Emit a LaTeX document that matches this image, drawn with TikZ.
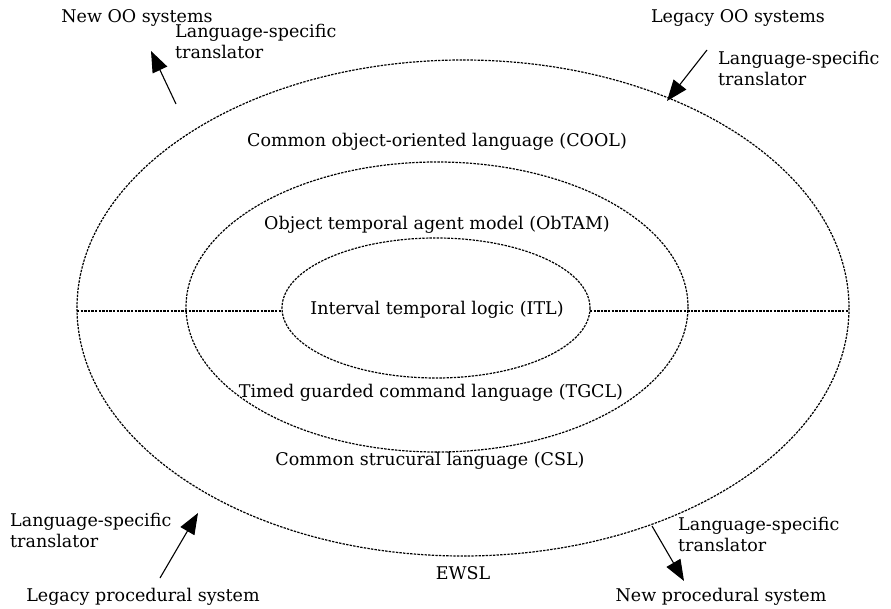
\documentclass[tikz,border=0pt]{standalone}
\usepackage{fontspec}
\setmainfont{DejaVu Serif}
\usetikzlibrary{arrows.meta}
\begin{document}
\begin{tikzpicture}[x=1pt,y=-1pt,
  lbl/.style={inner sep=0pt,font=\fontsize{17.5}{21}\selectfont},
  note/.style={lbl,align=left,anchor=north west},
  ring/.style={draw,line width=1.2pt,dash pattern=on 2.4pt off 1.2pt},
  flow/.style={line width=1.1pt,-{Triangle[length=21pt,width=16pt]}}]
\useasboundingbox (0,0) rectangle (891,609);
% nested language layers
\draw[ring] (463,308) ellipse [x radius=386,y radius=248];
\draw[ring] (437,307) ellipse [x radius=251,y radius=145];
\draw[ring] (436,308) ellipse [x radius=154,y radius=70];
\coordinate (ol) at (77,311);
\coordinate (il) at (282,311);
\coordinate (ir) at (590,311);
\coordinate (or) at (849,311);
\draw[ring] (ol) -- (il);
\draw[ring] (ir) -- (or);
% layer names
\node[lbl] (cool) at (437,142) {Common object-oriented language (COOL)};
\node[lbl] (obtam) at (437,225) {Object temporal agent model (ObTAM)};
\node[lbl] (itl) at (437,310) {Interval temporal logic (ITL)};
\node[lbl] (tgcl) at (431,393) {Timed guarded command language (TGCL)};
\node[lbl] (csl) at (430,461) {Common strucural language (CSL)};
\node[lbl] (ewsl) at (463,573) {EWSL};
% systems around the layers
\node[lbl] (newoo) at (137,18) {New OO systems};
\node[lbl] (legoo) at (738,18) {Legacy OO systems};
\node[lbl] (legproc) at (143,597) {Legacy procedural system};
\node[lbl] (newproc) at (721,597) {New procedural system};
% translators
\node[note] (t1) at (175,24) {Language-specific\\translator};
\node[note] (t2) at (718,51) {Language-specific\\translator};
\node[note] (t3) at (10,513) {Language-specific\\translator};
\node[note] (t4) at (678,517) {Language-specific\\translator};
\coordinate (a1s) at (176,104); \coordinate (a1e) at (151,51);
\coordinate (a2s) at (707,50);  \coordinate (a2e) at (667,101);
\coordinate (a3s) at (160,578); \coordinate (a3e) at (198,513);
\coordinate (a4s) at (652,526); \coordinate (a4e) at (684,581);
\draw[flow] (a1s) -- (a1e);
\draw[flow] (a2s) -- (a2e);
\draw[flow] (a3s) -- (a3e);
\draw[flow] (a4s) -- (a4e);
\end{tikzpicture}
\end{document}
